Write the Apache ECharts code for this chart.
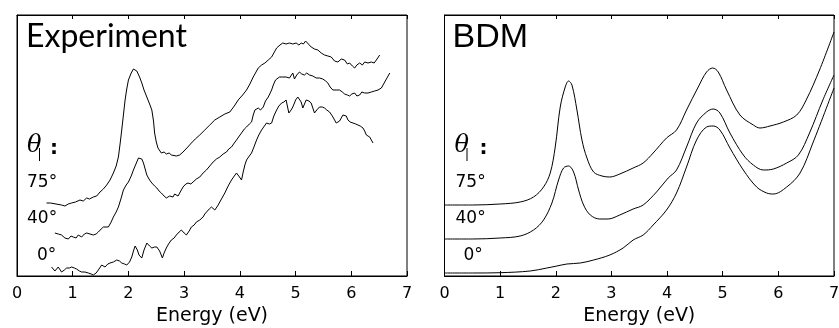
<!DOCTYPE html>
<html>
<head>
<meta charset="utf-8">
<script src="https://cdn.jsdelivr.net/npm/echarts@6/dist/echarts.min.js"></script>
<style>
  html, body { margin: 0; padding: 0; background: #fff; }
  #chart { width: 839px; height: 328px; }
</style>
</head>
<body>
<div id="chart"></div>
<script>
// Energy axis ticks (eV)
const energyTicks = [0, 1, 2, 3, 4, 5, 6, 7];
const panelTitles = ['Experiment', 'BDM'];
const angleLabels = ['75°', '40°', '0°'];

// Measured spectra, [energy (eV), intensity (arb. units, offset per angle)]
const exp75 = [
  [0.53,73],[0.60,73],[0.70,72],[0.80,71],[0.86,70],[0.92,72],[0.98,73],[1.05,74],[1.13,76],[1.19,75],
  [1.25,78],[1.30,77],[1.37,79],[1.43,80],[1.49,84],[1.55,87],[1.61,91],[1.67,96],[1.73,103],[1.78,110],
  [1.82,119],[1.85,132],[1.88,146],[1.91,161],[1.94,176],[1.97,187],[2.00,196],[2.05,203],[2.09,207],
  [2.15,205],[2.20,199],[2.24,193],[2.28,186],[2.33,179],[2.38,172],[2.42,166],[2.45,155],[2.47,143],
  [2.50,134],[2.53,128],[2.59,123],[2.64,124],[2.68,122],[2.73,123],[2.77,121],[2.86,120],[2.92,121],
  [2.98,124],[3.05,128],[3.13,133],[3.20,137],[3.28,141],[3.37,146],[3.46,151],[3.55,156],[3.64,159],
  [3.73,162],[3.82,164],[3.90,170],[3.97,176],[4.05,181],[4.12,186],[4.18,192],[4.24,199],[4.33,208],
  [4.39,211],[4.45,213],[4.51,216],[4.57,219],[4.62,224],[4.66,228],[4.72,231],[4.77,233],[4.83,232],
  [4.89,233],[4.95,232],[5.01,233],[5.06,231],[5.10,233],[5.14,232],[5.18,235],[5.23,232],[5.28,229],
  [5.34,227],[5.40,226],[5.46,223],[5.52,221],[5.58,220],[5.64,219],[5.70,215],[5.76,214],[5.82,217],
  [5.88,216],[5.93,212],[5.97,213],[6.02,210],[6.06,208],[6.10,211],[6.15,213],[6.20,211],[6.24,214],
  [6.30,213],[6.36,214],[6.41,213],[6.45,216],[6.51,221]
];
const exp40 = [
  [0.68,43],[0.74,42],[0.80,41],[0.86,38],[0.92,37],[0.97,40],[1.01,39],[1.06,38],[1.10,41],[1.16,39],
  [1.21,42],[1.25,43],[1.31,42],[1.37,41],[1.42,42],[1.46,44],[1.51,47],[1.55,49],[1.64,49],[1.69,54],
  [1.73,59],[1.78,64],[1.82,69],[1.87,78],[1.91,86],[1.96,91],[2.00,94],[2.05,100],[2.09,106],[2.12,110],
  [2.15,114],[2.18,118],[2.21,120],[2.24,117],[2.27,113],[2.30,107],[2.33,101],[2.38,96],[2.42,93],
  [2.47,90],[2.51,88],[2.55,85],[2.59,83],[2.64,80],[2.68,78],[2.71,80],[2.74,80],[2.77,78],[2.80,79],
  [2.83,82],[2.86,83],[2.89,80],[2.92,81],[2.95,86],[2.98,89],[3.03,92],[3.07,93],[3.12,92],[3.16,94],
  [3.22,97],[3.28,99],[3.34,103],[3.40,106],[3.46,110],[3.52,114],[3.58,117],[3.64,119],[3.70,122],
  [3.76,124],[3.80,127],[3.85,129],[3.90,133],[3.94,136],[3.99,140],[4.03,143],[4.08,147],[4.12,149],
  [4.17,152],[4.21,154],[4.24,161],[4.27,166],[4.30,167],[4.33,168],[4.37,166],[4.42,169],[4.46,175],
  [4.51,179],[4.57,186],[4.60,191],[4.64,196],[4.71,199],[4.77,199],[4.83,199],[4.89,198],[4.92,200],
  [4.95,203],[4.98,197],[5.02,201],[5.07,204],[5.11,202],[5.16,201],[5.20,203],[5.25,201],[5.31,200],
  [5.37,198],[5.43,198],[5.49,197],[5.54,195],[5.58,193],[5.62,189],[5.67,186],[5.73,186],[5.79,186],
  [5.84,184],[5.88,182],[5.93,181],[5.97,180],[6.01,182],[6.06,183],[6.10,180],[6.15,181],[6.19,184],
  [6.24,183],[6.30,183],[6.36,184],[6.42,185],[6.48,186],[6.54,188],[6.57,191],[6.60,194],[6.65,199],
  [6.69,203]
];
const exp0 = [
  [0.62,9],[0.68,5],[0.74,9],[0.80,4],[0.85,6],[0.89,8],[0.94,8],[0.98,9],[1.03,8],[1.07,7],
  [1.12,5],[1.16,4],[1.22,4],[1.28,3],[1.33,2],[1.37,1],[1.42,3],[1.46,6],[1.52,11],[1.58,9],
  [1.63,12],[1.67,13],[1.73,14],[1.79,16],[1.84,15],[1.88,13],[1.93,12],[1.97,11],[2.02,14],[2.06,19],
  [2.09,25],[2.12,30],[2.16,26],[2.19,21],[2.24,18],[2.28,26],[2.33,33],[2.38,30],[2.42,28],[2.47,29],
  [2.51,29],[2.56,25],[2.61,18],[2.64,23],[2.68,28],[2.72,32],[2.77,36],[2.82,38],[2.86,41],[2.91,44],
  [2.95,46],[3.00,43],[3.04,41],[3.09,45],[3.13,49],[3.18,51],[3.22,54],[3.28,56],[3.34,59],[3.37,62],
  [3.40,64],[3.45,67],[3.49,69],[3.52,68],[3.55,66],[3.60,70],[3.64,74],[3.69,79],[3.73,83],[3.79,90],
  [3.85,96],[3.90,100],[3.94,103],[3.98,100],[4.03,96],[4.06,104],[4.09,111],[4.12,116],[4.17,120],
  [4.21,123],[4.26,130],[4.30,136],[4.34,141],[4.39,146],[4.44,150],[4.48,153],[4.53,152],[4.57,153],
  [4.61,160],[4.66,166],[4.70,170],[4.75,173],[4.79,174],[4.83,176],[4.86,168],[4.88,163],[4.92,166],
  [4.95,169],[4.98,173],[5.00,176],[5.04,179],[5.07,181],[5.10,174],[5.13,168],[5.16,172],[5.19,176],
  [5.24,175],[5.28,173],[5.31,168],[5.34,163],[5.38,166],[5.43,169],[5.48,169],[5.52,168],[5.56,166],
  [5.61,164],[5.66,160],[5.70,156],[5.73,153],[5.76,151],[5.79,155],[5.82,158],[5.85,161],[5.88,163],
  [5.91,160],[5.94,156],[5.98,154],[6.03,153],[6.08,152],[6.12,151],[6.16,150],[6.21,148],[6.24,145],
  [6.27,141],[6.30,140],[6.33,139],[6.36,136],[6.39,133]
];

// BDM model spectra, same units
const bdm75 = [
  [0.00,71],[0.50,71],[1.00,72],[1.36,74],[1.60,79],[1.78,89],[1.90,103],[1.99,129],[2.08,169],[2.17,189],
  [2.23,195],[2.29,191],[2.38,166],[2.47,136],[2.56,118],[2.68,104],[2.83,100],[2.97,99],[3.15,102],
  [3.39,108],[3.57,113],[3.75,123],[3.99,138],[4.17,146],[4.35,166],[4.56,189],[4.71,204],[4.82,208],
  [4.92,204],[5.07,186],[5.31,161],[5.55,151],[5.67,148],[5.85,150],[6.09,154],[6.33,161],[6.50,176],
  [6.74,206],[7.00,244]
];
const bdm40 = [
  [0.00,37],[0.50,37],[1.00,38],[1.36,40],[1.60,46],[1.78,56],[1.93,73],[2.05,96],[2.14,108],[2.23,110],
  [2.32,104],[2.41,86],[2.50,71],[2.62,61],[2.79,57],[2.94,57],[3.15,61],[3.39,67],[3.57,71],[3.81,84],
  [4.02,98],[4.17,106],[4.35,129],[4.53,153],[4.71,164],[4.83,167],[4.95,163],[5.13,143],[5.37,121],
  [5.55,111],[5.73,106],[5.91,107],[6.15,113],[6.36,121],[6.56,143],[6.80,176],[7.00,201]
];
const bdm0 = [
  [0.00,3],[0.50,3],[1.00,3.3],[1.54,5],[1.84,8],[2.02,10],[2.20,12],[2.44,13],[2.68,16],[2.97,21],
  [3.21,28],[3.39,36],[3.57,41],[3.75,51],[3.99,66],[4.17,83],[4.35,109],[4.53,136],[4.71,149],[4.83,150],
  [4.95,146],[5.13,128],[5.37,106],[5.61,89],[5.79,83],[5.91,82],[6.15,89],[6.39,103],[6.62,133],[7.00,188]
];

const chart = echarts.init(document.getElementById('chart'), null, { renderer: 'canvas' });

const grids = [
  { left: 17, top: 15, width: 390, height: 261 },
  { left: 444.5, top: 15, width: 389.5, height: 261 }
];

function bottomAxis(gi) {
  return {
    type: 'value', gridIndex: gi, position: 'bottom',
    min: energyTicks[0], max: energyTicks[energyTicks.length - 1], interval: 1,
    name: 'Energy (eV)', nameLocation: 'middle', nameGap: 30,
    nameTextStyle: { fontFamily: 'DejaVu Sans', fontSize: 19, color: '#000', verticalAlign: 'top' },
    axisLine: { show: true, lineStyle: { color: '#000', width: 1 } },
    axisTick: { show: true, inside: true, length: 5, lineStyle: { color: '#000' } },
    axisLabel: { margin: 10, fontFamily: 'DejaVu Sans', fontSize: 16, color: '#000' },
    splitLine: { show: false }
  };
}
function topAxis(gi) {
  return {
    type: 'value', gridIndex: gi, position: 'top',
    min: energyTicks[0], max: energyTicks[energyTicks.length - 1], interval: 1,
    axisLine: { show: true, lineStyle: { color: '#000', width: 1 } },
    axisTick: { show: true, inside: true, length: 4, lineStyle: { color: '#000' } },
    axisLabel: { show: false }, splitLine: { show: false }
  };
}
function yAx(gi) {
  return {
    type: 'value', gridIndex: gi, min: 0, max: 261,
    axisLine: { show: true, lineStyle: { color: '#000' } },
    axisTick: { show: false }, axisLabel: { show: false }, splitLine: { show: false }
  };
}

function curve(data, xi, yi, smooth) {
  return {
    type: 'line', xAxisIndex: xi, yAxisIndex: yi, data: data,
    symbol: 'none', smooth: smooth, silent: true, animation: false,
    lineStyle: { color: '#000', width: 1 }, clip: true
  };
}

function textEl(x, y, str, font, size, style) {
  return {
    type: 'text', left: x, top: y, silent: true,
    style: { text: str, fontFamily: font, fontSize: size, fontStyle: style || 'normal', fill: '#000' }
  };
}

// Per-panel annotations: title and the angle legend
function panelLabels(x0, title, titleFont, titleSize, titleX, thetaX, colonX, labelX, zeroX) {
  return [
    textEl(x0 + titleX, 21, title, titleFont, titleSize),
    textEl(x0 + thetaX, 134, 'θ', 'DejaVu Serif', 24, 'italic'),
    { type: 'line', silent: true,
      shape: { x1: x0 + thetaX + 12.5, y1: 148, x2: x0 + thetaX + 12.5, y2: 161 },
      style: { stroke: '#000', lineWidth: 1 } },
    textEl(x0 + colonX, 139, ':', 'DejaVu Sans', 20, 'bold'),
    textEl(x0 + labelX, 174, angleLabels[0], 'DejaVu Sans', 17),
    textEl(x0 + labelX, 210, angleLabels[1], 'DejaVu Sans', 17),
    textEl(x0 + zeroX, 247, angleLabels[2], 'DejaVu Sans', 17)
  ];
}

chart.setOption({
  animation: false,
  backgroundColor: '#fff',
  grid: grids.map(g => Object.assign({
    show: true, borderColor: '#000', borderWidth: 1, backgroundColor: 'transparent',
    containLabel: false, outerBoundsMode: 'none'
  }, g)),
  xAxis: [bottomAxis(0), topAxis(0), bottomAxis(1), topAxis(1)],
  yAxis: [yAx(0), yAx(1)],
  series: [
    curve(exp75, 0, 0, false),
    curve(exp40, 0, 0, false),
    curve(exp0, 0, 0, false),
    curve(bdm75, 2, 1, 0.35),
    curve(bdm40, 2, 1, 0.35),
    curve(bdm0, 2, 1, 0.35)
  ],
  graphic: [].concat(
    panelLabels(17, panelTitles[0], 'Lato', 32, 9, 10, 33, 10, 20),
    panelLabels(444.5, panelTitles[1], 'Liberation Sans', 34, 8, 10, 35, 11, 19)
  )
});
</script>
</body>
</html>
